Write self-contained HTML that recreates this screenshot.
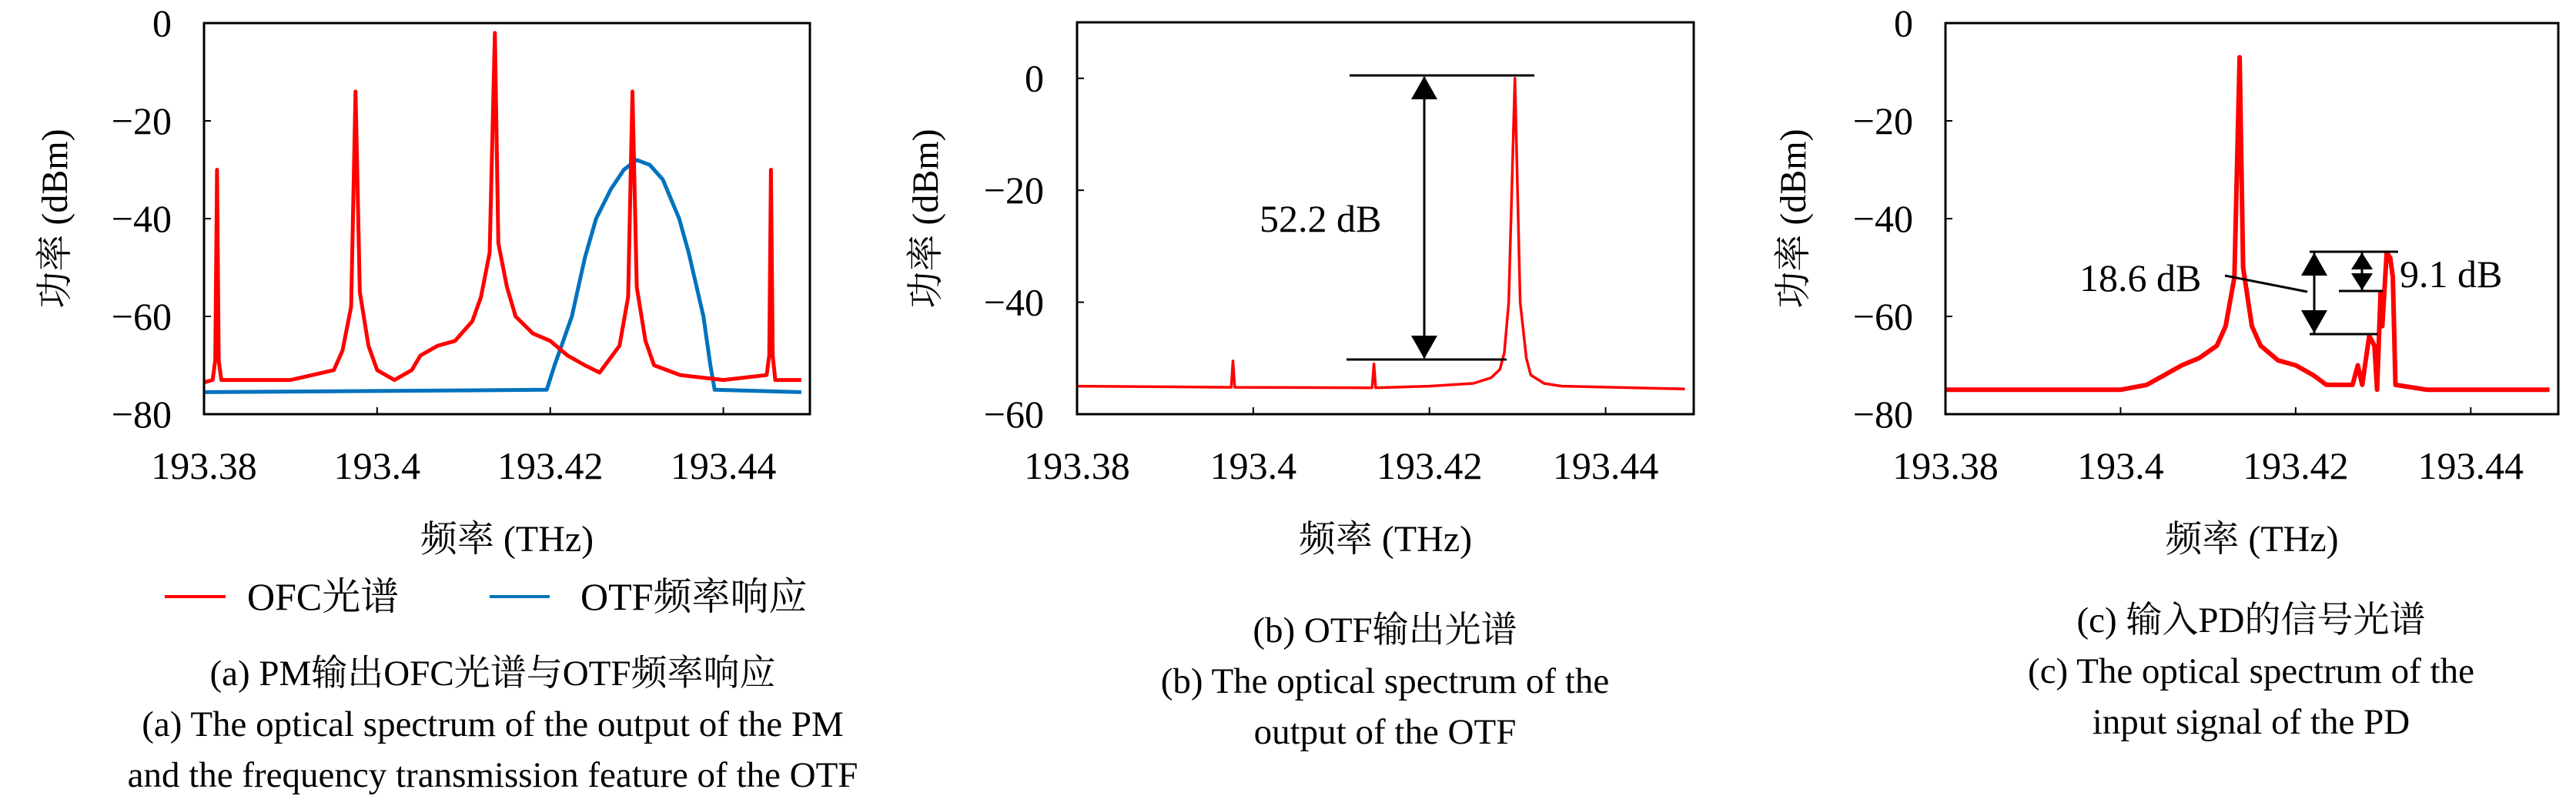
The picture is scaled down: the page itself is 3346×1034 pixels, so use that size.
<!DOCTYPE html>
<html><head><meta charset="utf-8">
<style>
html,body{margin:0;padding:0;background:#fff;}
svg, svg text{font-family:"Liberation Serif","Noto Serif CJK SC","Noto Sans CJK SC",serif;}
svg{display:block;}
</style></head>
<body>
<svg id="fig" width="3346" height="1034" viewBox="0 0 3346 1034" xmlns="http://www.w3.org/2000/svg" font-family="Liberation Serif, Noto Serif CJK SC, serif">
</svg>
<script>
// ---- data ----
const xTicks = [193.38, 193.4, 193.42, 193.44];
const xTickLabels = ["193.38", "193.4", "193.42", "193.44"];
const yTicksA = [0, -20, -40, -60, -80];
const yTicksB = [0, -20, -40, -60];
const yTicksC = [0, -20, -40, -60, -80];
// panel a: OFC spectrum
const ofcFreq = [193.38,193.381,193.3813,193.3815,193.3817,193.382,193.39,193.395,193.396,193.397,193.3975,193.398,193.399,193.4,193.402,193.404,193.405,193.407,193.409,193.411,193.412,193.413,193.4136,193.414,193.415,193.416,193.418,193.42,193.422,193.424,193.4257,193.428,193.429,193.4295,193.43,193.431,193.432,193.435,193.44,193.445,193.4453,193.4455,193.4457,193.446,193.449];
const ofcPower = [-73.5,-73,-69,-30,-69,-73,-73,-71,-67,-58,-14,-55,-66,-71,-73,-71,-68,-66,-65,-61,-56,-47,-2,-45,-54,-60,-63.5,-65,-68,-70,-71.5,-66,-56,-14,-54,-65,-70,-72,-73,-72,-68,-30,-68,-73,-73];
// panel a: OTF response
const otfFreq = [193.38,193.4196,193.4205,193.4215,193.4225,193.424,193.4253,193.427,193.4285,193.43,193.4315,193.433,193.4349,193.436,193.4377,193.4385,193.439,193.449];
const otfPower = [-75.5,-75,-70,-65,-60,-48,-40,-34,-30,-28,-29,-32,-40,-47,-60,-70,-75,-75.5];
// panel b: OTF output
const outFreq = [193.38,193.3975,193.3977,193.3979,193.4135,193.4137,193.4139,193.42,193.425,193.427,193.428,193.4285,193.429,193.4297,193.4303,193.431,193.4315,193.433,193.435,193.449];
const outPower = [-55,-55.2,-50.5,-55.2,-55.3,-51,-55.3,-55,-54.5,-53.5,-52,-49,-40,0,-40,-50,-53,-54.5,-55,-55.5];
// panel c: PD input
const pdFreq = [193.38,193.39,193.4,193.403,193.405,193.407,193.409,193.411,193.412,193.413,193.4136,193.414,193.415,193.416,193.418,193.42,193.422,193.4235,193.4265,193.4271,193.4276,193.4284,193.429,193.4293,193.4297,193.4299,193.4304,193.4308,193.4311,193.4314,193.435,193.449];
const pdPower = [-75,-75,-75,-74,-72,-70,-68.5,-66,-62,-52,-7,-50,-62,-66,-69,-70,-72,-74,-74,-70,-74,-64,-66,-75,-55,-62,-47,-48,-52,-74,-75,-75];

const NS = "http://www.w3.org/2000/svg";
const svg = document.getElementById('fig');
const FF = '"Liberation Serif","Noto Serif CJK SC",serif';
function mk(tag, attrs, parent){const e=document.createElementNS(NS,tag);for(const k in attrs)e.setAttribute(k,attrs[k]);(parent||svg).appendChild(e);return e;}
function txt(s, attrs, parent){attrs['font-family']=FF;const e=mk('text',attrs,parent);e.textContent=s;return e;}
function tri(x,y,dir,w,h,parent){ // dir -1: pointing up with tip at y; +1: pointing down
  const b = y - dir*h;
  return mk('path',{d:'M'+x+','+y+' L'+(x+w/2)+','+b+' L'+(x-w/2)+','+b+' z',fill:'#000'},parent);
}

function panel(id, box, yMin, yMax, yTicks, series, yTitleX, yLabelRight){
  const g = mk('g',{});
  
  
  const xs = v => box.l + (v-193.38)/(193.45-193.38)*(box.r-box.l);
  const ys = v => box.t + (yMax-v)/(yMax-yMin)*(box.b-box.t);
  series.forEach(s=>{
    let d='';
    s.f.forEach((f,i)=>{d+=(i?'L':'M')+xs(f).toFixed(1)+','+ys(s.p[i]).toFixed(1);});
    const p = mk('path',{d:d,fill:'none',stroke:s.c,'stroke-width':s.w,'stroke-linejoin':'round'},g);
    
    
  });
  const frame = mk('rect',{x:box.l,y:box.t,width:box.r-box.l,height:box.b-box.t,fill:'none',stroke:'#000','stroke-width':3},g);
  
  
  yTicks.forEach(v=>{
    const y=ys(v);
    mk('line',{x1:box.l,x2:box.l+9,y1:y,y2:y,stroke:'#000','stroke-width':2},g);
    const t = txt(v===0?'0':'\u2212'+Math.abs(v),{x:yLabelRight,y:y+17,'text-anchor':'end','font-size':50},g);
    
    
  });
  xTicks.forEach((v,i)=>{
    const x=xs(v);
    mk('line',{x1:x,x2:x,y1:box.b,y2:box.b-9,stroke:'#000','stroke-width':2},g);
    const t = txt(xTickLabels[i],{x:x,y:622,'text-anchor':'middle','font-size':50},g);
    
    
  });
  const xt = txt('频率 (THz)',{x:(box.l+box.r)/2,y:716,'text-anchor':'middle','font-size':48},g);
  
  
  const yt = txt('功率 (dBm)',{x:0,y:0,'text-anchor':'middle','font-size':48,transform:'translate('+(yTitleX+16)+',284) rotate(-90)'},g);
  
  
  return {xs, ys, g};
}

const A = panel('a',{l:265,r:1052,t:30,b:538},-80,0,yTicksA,[
  {f:otfFreq,p:otfPower,c:'#0072bd',w:5,name:'otf-response-line'},
  {f:ofcFreq,p:ofcPower,c:'#ff0000',w:5,name:'ofc-spectrum-line'}],71,223);
const B = panel('b',{l:1399,r:2200,t:29,b:538},-60,10,yTicksB,[
  {f:outFreq,p:outPower,c:'#ff0000',w:3.5,name:'otf-output-line'}],1202,1356);
const C = panel('c',{l:2527,r:3323,t:30,b:538},-80,0,yTicksC,[
  {f:pdFreq,p:pdPower,c:'#ff0000',w:6,name:'pd-input-line'}],2329,2485);

// legend
const lg = mk('g',{});


mk('line',{x1:214,x2:293,y1:775,y2:775,stroke:'#ff0000','stroke-width':4},lg);
txt('OFC光谱',{x:321,y:792,'font-size':50},lg);
mk('line',{x1:636,x2:714,y1:775,y2:775,stroke:'#0072bd','stroke-width':4},lg);
txt('OTF频率响应',{x:754,y:792,'font-size':50},lg);

// annotations b
const an = mk('g',{});


mk('line',{x1:1753,x2:1993,y1:98,y2:98,stroke:'#000','stroke-width':3},an);
mk('line',{x1:1749,x2:1957,y1:467,y2:467,stroke:'#000','stroke-width':3},an);
mk('line',{x1:1850,x2:1850,y1:100,y2:465,stroke:'#000','stroke-width':3},an);
tri(1850,99,-1,34,30,an);
tri(1850,466,1,34,30,an);
txt('52.2 dB',{x:1636,y:301,'font-size':50},an);

// annotations c
const ac = mk('g',{});


mk('line',{x1:3000,x2:3115,y1:327,y2:327,stroke:'#000','stroke-width':3},ac);
mk('line',{x1:3038,x2:3095,y1:378,y2:378,stroke:'#000','stroke-width':3},ac);
mk('line',{x1:3000,x2:3088,y1:434,y2:434,stroke:'#000','stroke-width':3},ac);
mk('line',{x1:3006,x2:3006,y1:328,y2:433,stroke:'#000','stroke-width':3},ac);
tri(3006,328,-1,34,30,ac);
tri(3006,433,1,34,30,ac);
mk('line',{x1:3068,x2:3068,y1:328,y2:377,stroke:'#000','stroke-width':3},ac);
tri(3068,328,-1,28,22,ac);
tri(3068,377,1,28,22,ac);
mk('line',{x1:2890,x2:2997,y1:358,y2:379,stroke:'#000','stroke-width':3},ac);
txt('18.6 dB',{x:2701,y:378,'font-size':50},ac);
txt('9.1 dB',{x:3117,y:373,'font-size':50},ac);

// captions
function cap(lines, cx, ys, name){
  const g = mk('g',{});
  
  
  lines.forEach((s,i)=>txt(s,{x:cx,y:ys[i]+16,'text-anchor':'middle','font-size':47},g));
}
cap(['(a) PM输出OFC光谱与OTF频率响应','(a) The optical spectrum of the output of the PM','and the frequency transmission feature of the OTF'],640,[874,940,1006],'caption-a');
cap(['(b) OTF输出光谱','(b) The optical spectrum of the','output of the OTF'],1799,[818,884,950],'caption-b');
cap(['(c) 输入PD的信号光谱','(c) The optical spectrum of the','input signal of the PD'],2924,[805,871,937],'caption-c');
</script>
</body></html>
